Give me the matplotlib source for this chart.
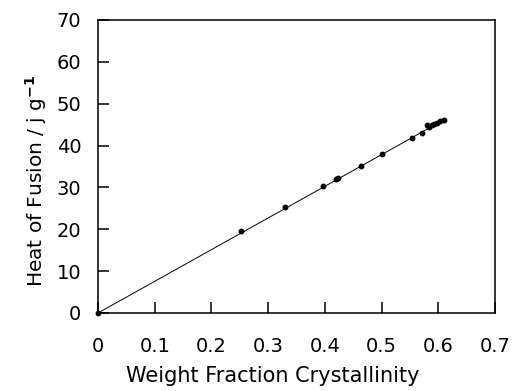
import matplotlib
matplotlib.use("Agg")
import matplotlib.pyplot as plt

# Data
crystallinity = [0.0, 0.253, 0.330, 0.396, 0.420, 0.424, 0.463, 0.501, 0.553, 0.572,
                 0.580, 0.583, 0.588, 0.593, 0.598, 0.603, 0.610]
heat_fusion = [0.0, 19.5, 25.2, 30.3, 32.0, 32.3, 35.2, 38.0, 41.8, 43.1,
               44.9, 44.4, 44.9, 45.2, 45.5, 45.8, 46.2]
fit_x = [0.0, 0.612]
fit_y = [0.0, 46.3]

x_ticks = [0, 0.1, 0.2, 0.3, 0.4, 0.5, 0.6, 0.7]
x_tick_labels = ["0", "0.1", "0.2", "0.3", "0.4", "0.5", "0.6", "0.7"]
y_ticks = [0, 10, 20, 30, 40, 50, 60, 70]

fig = plt.figure(figsize=(5.13, 3.91), dpi=100)
ax = fig.add_axes([0.191, 0.1995, 0.774, 0.7495])

ax.plot(fit_x, fit_y, color="black", linewidth=0.7, clip_on=False, zorder=2)
ax.plot(crystallinity, heat_fusion, "o", color="black", markersize=3.2,
        clip_on=False, zorder=3)

ax.set_xlim(0, 0.7)
ax.set_ylim(0, 70)
ax.set_xticks(x_ticks)
ax.set_xticklabels(x_tick_labels)
ax.set_yticks(y_ticks)

for s in ax.spines.values():
    s.set_linewidth(1.1)
    s.set_color("black")

ax.tick_params(axis="both", direction="in", length=8, width=1.1, labelsize=14,
               top=False, right=False)
ax.tick_params(axis="x", pad=17.5)
ax.tick_params(axis="y", pad=12)

ax.set_xlabel("Weight Fraction Crystallinity", fontsize=15, va="center")
ax.xaxis.set_label_coords(0.439, -0.214)
ax.set_ylabel(r"Heat of Fusion / j g$^{\mathbf{-1}}$", fontsize=14.5, va="center")
ax.yaxis.set_label_coords(-0.155, 0.452)

fig.savefig("out.png", dpi=100)
